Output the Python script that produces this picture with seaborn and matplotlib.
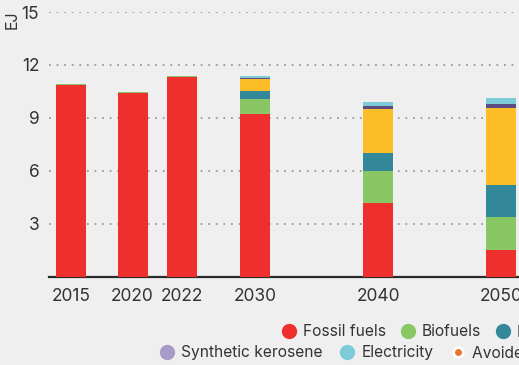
import numpy as np
import pandas as pd
import matplotlib
matplotlib.use("Agg")
import matplotlib.pyplot as plt
from matplotlib.lines import Line2D
import seaborn as sns

# data (EJ)
years = [2015, 2020, 2022, 2030, 2040, 2050]
# the source chart puts the 2022 bar further right than its true year
x_pos = [2015, 2020, 2024, 2030, 2040, 2050]
fossil = [10.85, 10.42, 11.30, 9.23, 4.18, 1.51]
biofuels = [0.06, 0.05, 0.06, 0.86, 1.81, 1.87]
hydrogen = [0.0, 0.0, 0.0, 0.45, 1.03, 1.82]
efficiency = [0.0, 0.0, 0.0, 0.68, 2.50, 4.37]
other = [0.0, 0.0, 0.0, 0.06, 0.17, 0.23]
electricity = [0.0, 0.0, 0.0, 0.11, 0.22, 0.34]

series = ["Fossil fuels", "Biofuels", "Hydrogen", "Efficiency", "Other", "Electricity"]
values = [fossil, biofuels, hydrogen, efficiency, other, electricity]
colors = ["#ef2e2e", "#88c764", "#33889a", "#fdbd27", "#5d4c83", "#7ecbd8"]

row1_labels = ["Fossil fuels", "Biofuels", "Hydrogen", "Efficiency", "Other"]
row1_colors = ["#ef2e2e", "#88c764", "#33889a", "#fdbd27", "#5d4c83"]
row2_labels = ["Synthetic kerosene", "Electricity", "Avoided demand"]
row2_colors = ["#a89bc8", "#7ecbd8", "#e8772e"]

bg = "#efefef"
text_col = "#333333"

sns.set_theme(style="white", rc={"axes.facecolor": bg, "figure.facecolor": bg})
plt.rcParams["font.family"] = ["Inter", "DejaVu Sans"]

df = pd.DataFrame({"x": x_pos})
cum = np.zeros(len(years))
for name, vals in zip(series, values):
    cum = cum + np.array(vals)
    df[name] = cum

fig = plt.figure(figsize=(5.19, 3.65), dpi=100)
ax = fig.add_axes([49 / 519, 88.5 / 365, 1 - 49 / 519, (276.5 - 12) / 365])

# draw cumulative totals from the top layer down so each layer shows
for name, col in reversed(list(zip(series, colors))):
    sns.barplot(data=df, x="x", y=name, color=col, native_scale=True,
                width=2.44 / 4, saturation=1, ax=ax, linewidth=0, zorder=3)

ax.set_xlim(2013.2, 2051.46)
ax.set_ylim(0, 15)
ax.set_yticks([3, 6, 9, 12, 15])
ax.set_xticks(x_pos)
ax.set_xticklabels([str(y) for y in years])
ax.set_xlabel("")
ax.set_ylabel("")
ax.grid(axis="y", color="#9a9a9a", linestyle=(0, (1, 3.2)), linewidth=1.3, zorder=0)
ax.set_axisbelow(True)
ax.tick_params(axis="both", length=0, labelsize=12.5, labelcolor=text_col)
ax.tick_params(axis="y", pad=7)
ax.tick_params(axis="x", pad=8)
for s in ["left", "right", "top"]:
    ax.spines[s].set_visible(False)
ax.spines["bottom"].set_color("#2b2b2b")
ax.spines["bottom"].set_linewidth(1.6)

fig.text(12.5 / 519, 1 - 20 / 365, "EJ", rotation=90, ha="center", va="center",
         fontsize=11.5, color=text_col)


def handles(labels, cols, small_last=False):
    hs = []
    for i, (lab, c) in enumerate(zip(labels, cols)):
        if small_last and i == len(labels) - 1:
            hs.append(Line2D([], [], marker="o", linestyle="", markersize=7,
                             markerfacecolor=c, markeredgecolor="white",
                             markeredgewidth=2, label=lab))
        else:
            hs.append(Line2D([], [], marker="o", linestyle="", markersize=10,
                             markerfacecolor=c, markeredgecolor=c, label=lab))
    return hs


leg_kw = dict(frameon=False, handlelength=0.9, handletextpad=0.45,
              borderpad=0, borderaxespad=0,
              prop={"size": 11.2}, labelcolor=text_col)
leg1 = fig.legend(handles=handles(row1_labels, row1_colors), ncol=5, columnspacing=0.95,
                  loc="center left", bbox_to_anchor=(282 / 519, 1 - 332 / 365), **leg_kw)
leg2 = fig.legend(handles=handles(row2_labels, row2_colors, small_last=True), ncol=3,
                  columnspacing=1.15,
                  loc="center left", bbox_to_anchor=(160 / 519, 1 - 353 / 365), **leg_kw)

fig.savefig("out.png", dpi=100, facecolor=bg)
